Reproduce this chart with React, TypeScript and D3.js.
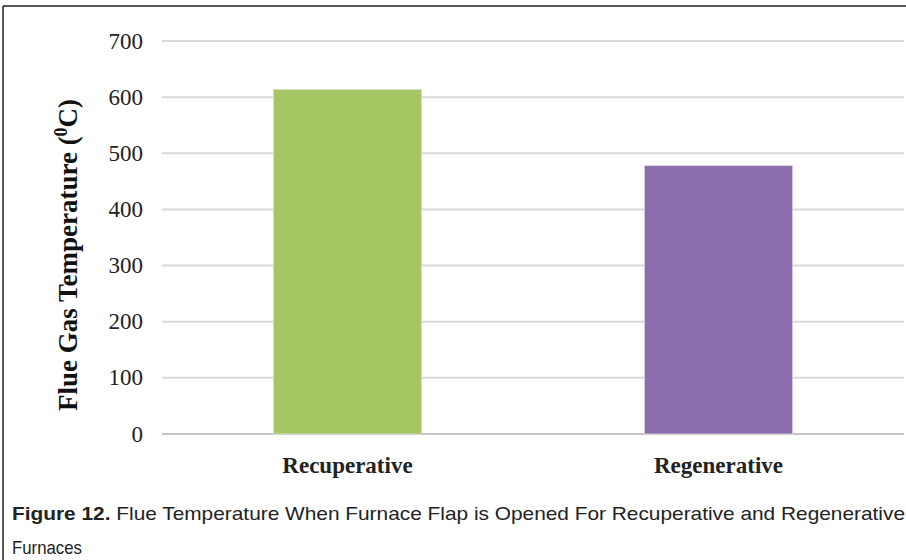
import React from "react";
import * as d3 from "d3";

const categories = ["Recuperative", "Regenerative"];
const values = [614, 478];
const barColors = ["#a5c663", "#8b6dad"];
const yTicks = [0, 100, 200, 300, 400, 500, 600, 700];
const yTitle = "Flue Gas Temperature (";
const captionBold = "Figure 12.";
const captionRest = " Flue Temperature When Furnace Flap is Opened For Recuperative and Regenerative";
const captionLine2 = "Furnaces";

export default function App() {
  const W = 906, H = 560;
  const y = d3.scaleLinear().domain([0, 700]).range([434, 41]);
  const x = d3.scaleBand().domain(categories).range([162, 904]).paddingInner(0.6).paddingOuter(0.3);
  const serif = "'Liberation Serif', 'Times New Roman', serif";
  const sans = "'Liberation Sans', Arial, sans-serif";
  return (
    <div style={{ position: "absolute", left: 0, top: 0 }}>
      <svg width={W} height={H} style={{ display: "block" }}>
        <rect x={0} y={0} width={W} height={H} fill="#fff" />
        <line x1={3} x2={906} y1={6} y2={6} stroke="#222" strokeWidth={1.5} />
        <line x1={3} x2={3} y1={6} y2={560} stroke="#222" strokeWidth={1.5} />
        {yTicks.map((t) => (
          <g key={t}>
            <line x1={162} x2={904} y1={y(t)} y2={y(t)} stroke={t === 0 ? "#c4c4c4" : "#d9d9d9"} strokeWidth={2} />
            <text x={143} y={y(t) + 7.5} textAnchor="end" fontFamily={serif} fontSize={23} fill="#222">{t}</text>
          </g>
        ))}
        {categories.map((c, i) => (
          <g key={c}>
            <rect x={x(c)} y={y(values[i])} width={x.bandwidth()} height={y(0) - y(values[i])} fill={barColors[i]} stroke="#e0e0e0" strokeWidth={0.8} />
            <text x={(x(c) as number) + x.bandwidth() / 2} y={472.5} textAnchor="middle" fontFamily={serif} fontWeight="bold" fontSize={23} fill="#222">{c}</text>
          </g>
        ))}
        <text transform="translate(77,255) rotate(-90)" textAnchor="middle" fontFamily={serif} fontWeight="bold" fontSize={27} fill="#111">
          {yTitle}
          <tspan baselineShift="super" fontSize={18}>0</tspan>
          <tspan>C)</tspan>
        </text>
        <text x={12} y={519.5} fontFamily={sans} fontSize={19} fill="#222" textLength={893} lengthAdjust="spacingAndGlyphs">
          <tspan fontWeight="bold">{captionBold}</tspan>
          <tspan>{captionRest}</tspan>
        </text>
        <text x={12} y={554} fontFamily={sans} fontSize={19} fill="#222" textLength={70} lengthAdjust="spacingAndGlyphs">{captionLine2}</text>
      </svg>
    </div>
  );
}
